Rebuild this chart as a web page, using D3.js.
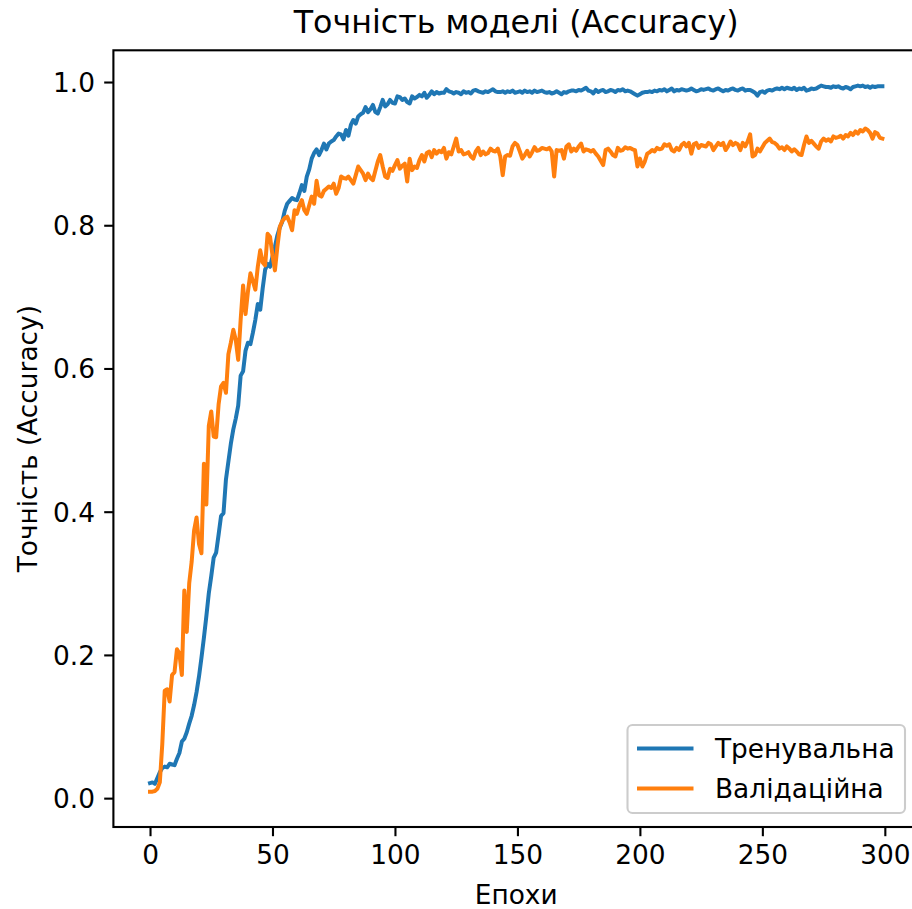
<!DOCTYPE html>
<html>
<head>
<meta charset="utf-8">
<script src="https://cdn.jsdelivr.net/npm/d3@7/dist/d3.min.js"></script>
<style>
  html, body { margin: 0; padding: 0; background: #ffffff; }
  svg { display: block; font-family: "DejaVu Sans", sans-serif; }
</style>
</head>
<body>
<svg id="chart" width="912" height="909"></svg>
<script>
// Training accuracy per epoch (epochs 0..299)
const trainAcc = [
  0.021, 0.022, 0.020, 0.028, 0.036, 0.042, 0.044, 0.043, 0.048, 0.047,
  0.046, 0.055, 0.063, 0.079, 0.083, 0.092, 0.104, 0.115, 0.130, 0.148,
  0.170, 0.196, 0.224, 0.254, 0.286, 0.310, 0.336, 0.343, 0.368, 0.394,
  0.398, 0.445, 0.470, 0.495, 0.515, 0.530, 0.548, 0.590, 0.596, 0.625,
  0.636, 0.634, 0.650, 0.668, 0.690, 0.682, 0.712, 0.738, 0.746, 0.742,
  0.756, 0.770, 0.786, 0.797, 0.805, 0.820, 0.830, 0.834, 0.838, 0.836,
  0.835, 0.845, 0.856, 0.848, 0.868, 0.878, 0.893, 0.901, 0.906, 0.898,
  0.905, 0.914, 0.906, 0.914, 0.917, 0.919, 0.924, 0.928, 0.927, 0.920,
  0.933, 0.925, 0.940, 0.947, 0.942, 0.952, 0.955, 0.957, 0.965, 0.958,
  0.962, 0.968, 0.958, 0.956, 0.965, 0.975, 0.966, 0.969, 0.975, 0.971,
  0.970, 0.980, 0.979, 0.975, 0.977, 0.972, 0.970, 0.980, 0.977, 0.979,
  0.982, 0.980, 0.985, 0.978, 0.982, 0.987, 0.983, 0.986, 0.984, 0.985,
  0.985, 0.990, 0.987, 0.986, 0.984, 0.986, 0.985, 0.983, 0.987, 0.985,
  0.986, 0.984, 0.988, 0.989, 0.987, 0.986, 0.985, 0.987, 0.986, 0.988,
  0.990, 0.987, 0.986, 0.986, 0.987, 0.985, 0.987, 0.986, 0.988, 0.985,
  0.986, 0.987, 0.985, 0.988, 0.986, 0.987, 0.985, 0.988, 0.986, 0.987,
  0.988, 0.986, 0.985, 0.986, 0.984, 0.985, 0.987, 0.985, 0.983, 0.986,
  0.985, 0.987, 0.988, 0.988, 0.987, 0.989, 0.988, 0.990, 0.992, 0.988,
  0.987, 0.984, 0.989, 0.986, 0.988, 0.989, 0.986, 0.987, 0.989, 0.988,
  0.986, 0.989, 0.988, 0.990, 0.987, 0.988, 0.987, 0.985, 0.983, 0.981,
  0.983, 0.985, 0.986, 0.986, 0.987, 0.986, 0.988, 0.987, 0.989, 0.988,
  0.990, 0.987, 0.989, 0.991, 0.987, 0.989, 0.988, 0.990, 0.989, 0.988,
  0.989, 0.991, 0.989, 0.987, 0.988, 0.990, 0.989, 0.990, 0.991, 0.989,
  0.988, 0.990, 0.991, 0.989, 0.987, 0.989, 0.988, 0.990, 0.991, 0.989,
  0.988, 0.990, 0.991, 0.988, 0.989, 0.989, 0.987, 0.985, 0.981, 0.986,
  0.987, 0.985, 0.988, 0.989, 0.988, 0.990, 0.991, 0.990, 0.992, 0.990,
  0.992, 0.991, 0.990, 0.992, 0.989, 0.991, 0.990, 0.992, 0.988, 0.989,
  0.991, 0.990, 0.991, 0.993, 0.995, 0.994, 0.993, 0.993, 0.992, 0.994,
  0.993, 0.994, 0.992, 0.991, 0.993, 0.992, 0.990, 0.993, 0.994, 0.995,
  0.994, 0.995, 0.993, 0.994, 0.992, 0.994, 0.993, 0.994, 0.994, 0.994
];

// Validation accuracy per epoch (epochs 0..299)
const valAcc = [
  0.009, 0.009, 0.010, 0.013, 0.022, 0.075, 0.150, 0.152, 0.135, 0.172,
  0.176, 0.208, 0.202, 0.172, 0.290, 0.232, 0.300, 0.330, 0.374, 0.392,
  0.355, 0.342, 0.467, 0.410, 0.520, 0.540, 0.505, 0.504, 0.550, 0.575,
  0.580, 0.566, 0.620, 0.636, 0.654, 0.640, 0.612, 0.668, 0.716, 0.676,
  0.708, 0.733, 0.722, 0.710, 0.742, 0.765, 0.748, 0.744, 0.788, 0.784,
  0.758, 0.737, 0.770, 0.798, 0.806, 0.810, 0.812, 0.804, 0.793, 0.821,
  0.816, 0.828, 0.835, 0.821, 0.816, 0.828, 0.840, 0.830, 0.862, 0.842,
  0.840, 0.848, 0.851, 0.854, 0.852, 0.858, 0.844, 0.852, 0.868, 0.866,
  0.865, 0.868, 0.863, 0.858, 0.870, 0.882, 0.877, 0.872, 0.863, 0.872,
  0.866, 0.863, 0.876, 0.889, 0.898, 0.882, 0.868, 0.866, 0.879, 0.876,
  0.884, 0.891, 0.879, 0.883, 0.886, 0.861, 0.893, 0.877, 0.882, 0.880,
  0.891, 0.898, 0.889, 0.901, 0.903, 0.895, 0.905, 0.900, 0.904, 0.902,
  0.908, 0.893, 0.902, 0.899, 0.910, 0.921, 0.903, 0.905, 0.899, 0.900,
  0.902, 0.896, 0.893, 0.903, 0.908, 0.898, 0.903, 0.899, 0.901, 0.907,
  0.904, 0.903, 0.907, 0.896, 0.870, 0.896, 0.898, 0.897, 0.910, 0.915,
  0.912, 0.903, 0.893, 0.898, 0.904, 0.896, 0.902, 0.909, 0.904, 0.905,
  0.908, 0.907, 0.906, 0.908, 0.903, 0.868, 0.905, 0.904, 0.905, 0.893,
  0.910, 0.913, 0.903, 0.907, 0.904, 0.910, 0.914, 0.903, 0.906, 0.905,
  0.903, 0.905, 0.900, 0.896, 0.890, 0.884, 0.905, 0.907, 0.903, 0.898,
  0.896, 0.908, 0.904, 0.905, 0.909, 0.907, 0.908, 0.906, 0.905, 0.882,
  0.893, 0.882, 0.889, 0.900, 0.902, 0.905, 0.903, 0.908, 0.906, 0.907,
  0.913, 0.911, 0.913, 0.905, 0.903, 0.908, 0.905, 0.912, 0.915, 0.910,
  0.915, 0.900, 0.913, 0.915, 0.908, 0.912, 0.911, 0.910, 0.915, 0.913,
  0.905, 0.910, 0.915, 0.912, 0.915, 0.905, 0.910, 0.917, 0.912, 0.915,
  0.913, 0.905, 0.915, 0.910, 0.917, 0.927, 0.896, 0.898, 0.907, 0.903,
  0.909, 0.915, 0.918, 0.921, 0.916, 0.915, 0.912, 0.907, 0.909, 0.905,
  0.910, 0.907, 0.903, 0.906, 0.903, 0.899, 0.898, 0.912, 0.924, 0.915,
  0.918, 0.914, 0.910, 0.907, 0.917, 0.921, 0.918, 0.920, 0.917, 0.924,
  0.922, 0.923, 0.925, 0.921, 0.926, 0.924, 0.929, 0.926, 0.931, 0.928,
  0.933, 0.931, 0.935, 0.933, 0.929, 0.921, 0.930, 0.928, 0.922, 0.921
];

const xTicks = [0, 50, 100, 150, 200, 250, 300];
const yTicks = [0.0, 0.2, 0.4, 0.6, 0.8, 1.0];
const seriesNames = ["Тренувальна", "Валідаційна"];
const seriesColors = ["#1f77b4", "#ff7f0e"];
const titleText = "Точність моделі (Accuracy)";
const xLabelText = "Епохи";
const yLabelText = "Точність (Accuracy)";

const epochs = d3.range(trainAcc.length);

// Plot area in pixels (right edge lies just past the canvas)
const plot = { left: 113.4, right: 919, top: 50.3, bottom: 827 };

// Auto limits with 5% padding on each side
const xMin = 0, xMax = epochs.length - 1;
const xPad = (xMax - xMin) * 0.05;
const allVals = trainAcc.concat(valAcc);
const yMin = d3.min(allVals), yMax = d3.max(allVals);
const yPad = (yMax - yMin) * 0.05;

const x = d3.scaleLinear().domain([xMin - xPad, xMax + xPad]).range([plot.left, plot.right]);
const y = d3.scaleLinear().domain([yMin - yPad, yMax + yPad]).range([plot.bottom, plot.top]);

const svg = d3.select("#chart");
const fontSize = 26.4;
const lineW = 4.0;

svg.append("defs").append("clipPath").attr("id", "plotclip")
  .append("rect")
  .attr("x", plot.left).attr("y", plot.top)
  .attr("width", plot.right - plot.left).attr("height", plot.bottom - plot.top);

// Series lines
const line = d3.line().x((d, i) => x(i)).y(d => y(d));
[trainAcc, valAcc].forEach((s, k) => {
  svg.append("path")
    .datum(s)
    .attr("clip-path", "url(#plotclip)")
    .attr("fill", "none")
    .attr("stroke", seriesColors[k])
    .attr("stroke-width", lineW)
    .attr("stroke-linejoin", "round")
    .attr("stroke-linecap", "square")
    .attr("d", line);
});

// Axes
const xAxis = d3.axisBottom(x).tickValues(xTicks).tickFormat(d3.format("d"))
  .tickSize(9.2).tickPadding(7.5);
const yAxis = d3.axisLeft(y).tickValues(yTicks).tickFormat(d3.format(".1f"))
  .tickSize(9.2).tickPadding(9.2);

const gx = svg.append("g").attr("transform", `translate(0,${plot.bottom})`).call(xAxis);
const gy = svg.append("g").attr("transform", `translate(${plot.left},0)`).call(yAxis);
[gx, gy].forEach(g => {
  g.select(".domain").remove();
  g.selectAll(".tick line").attr("stroke", "#000").attr("stroke-width", 2.1);
  g.selectAll(".tick text")
    .attr("fill", "#000")
    .style("font-family", "DejaVu Sans")
    .style("font-size", fontSize + "px");
});
gx.selectAll(".tick text").attr("dy", "0.78em");
gy.selectAll(".tick text").attr("dy", "0.36em");

// Frame
svg.append("rect")
  .attr("x", plot.left).attr("y", plot.top)
  .attr("width", plot.right - plot.left).attr("height", plot.bottom - plot.top)
  .attr("fill", "none").attr("stroke", "#000").attr("stroke-width", 2.1);

// Title and axis labels
svg.append("text")
  .attr("x", (plot.left + plot.right) / 2).attr("y", 33)
  .attr("text-anchor", "middle")
  .style("font-size", "31.7px")
  .text(titleText);

svg.append("text")
  .attr("x", (plot.left + plot.right) / 2).attr("y", 904)
  .attr("text-anchor", "middle")
  .style("font-size", fontSize + "px")
  .text(xLabelText);

svg.append("text")
  .attr("transform", `translate(37,${(plot.top + plot.bottom) / 2}) rotate(-90)`)
  .attr("text-anchor", "middle")
  .style("font-size", fontSize + "px")
  .text(yLabelText);

// Legend (lower right)
const legend = svg.append("g");
legend.append("rect")
  .attr("x", 627.5).attr("y", 725).attr("width", 277.5).attr("height", 88)
  .attr("rx", 5).attr("ry", 5)
  .attr("fill", "#ffffff").attr("fill-opacity", 0.8)
  .attr("stroke", "#cccccc").attr("stroke-width", 2.1);

seriesNames.forEach((name, k) => {
  const cy = 748.5 + k * 40;
  legend.append("line")
    .attr("x1", 637).attr("x2", 693.5).attr("y1", cy).attr("y2", cy)
    .attr("stroke", seriesColors[k]).attr("stroke-width", lineW);
  legend.append("text")
    .attr("x", 715).attr("y", cy).attr("dy", "0.36em")
    .style("font-size", fontSize + "px")
    .text(name);
});
</script>
</body>
</html>
